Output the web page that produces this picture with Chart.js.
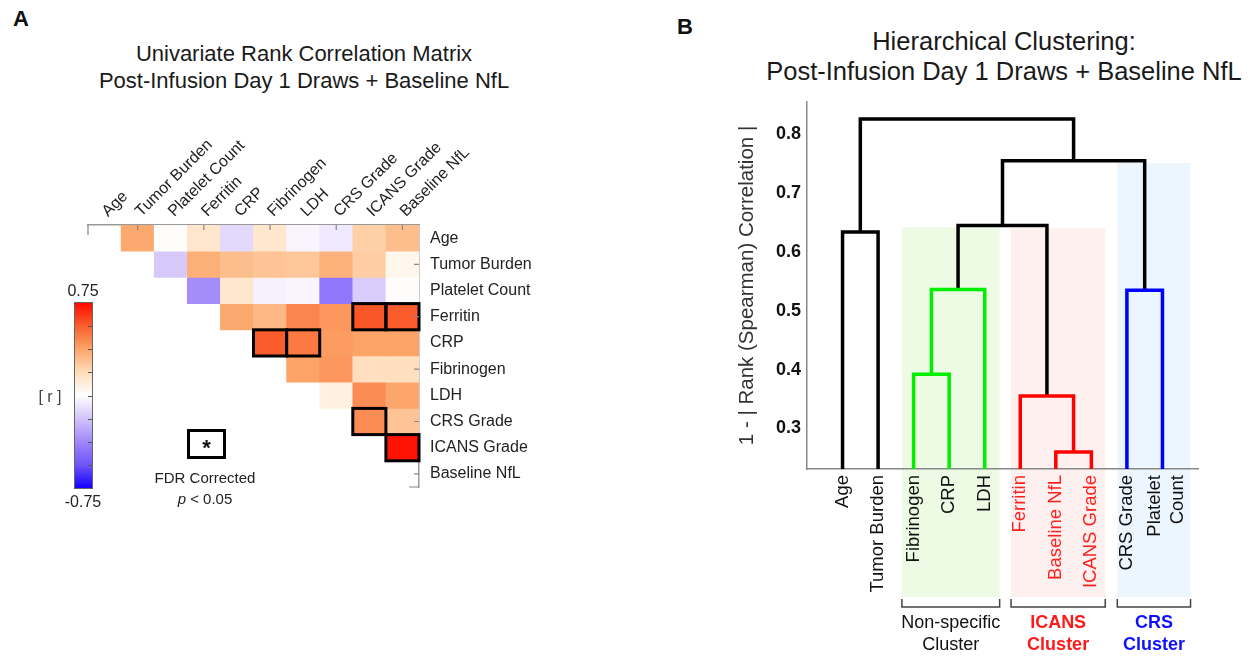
<!DOCTYPE html>
<html>
<head>
<meta charset="utf-8">
<script src="https://cdn.jsdelivr.net/npm/chart.js@4.4.1/dist/chart.umd.min.js"></script>
<style>
  body { margin: 0; background: #fff; font-family: 'Liberation Sans', Arial, sans-serif; color: #111; }
  #page { position: relative; width: 1255px; height: 656px; overflow: hidden; }
  .abs { position: absolute; }
  .letter { font-weight: bold; font-size: 22px; line-height: 22px; }
  .title { text-align: center; color: #1a1a1a; }
  #colorbar { left: 74px; top: 302px; width: 17px; height: 185px; border: 1px solid #666; }
  .cbtick { position: absolute; right: 0; width: 4px; height: 1px; background: #555; }
  .small { font-size: 16px; color: #222; text-align: center; }
  #starbox { left: 187px; top: 429px; width: 33px; height: 24px; border: 3px solid #000;
             font-weight: bold; font-size: 22px; text-align: center; line-height: 32px; }
</style>
</head>
<body>
<div id="page">
  <div class="abs letter" style="left:13px;top:8px">A</div>
  <div class="abs letter" style="left:677px;top:16px">B</div>

  <div class="abs title" style="left:40px;width:528px;top:40px;font-size:22px;line-height:27px">
    Univariate Rank Correlation Matrix<br>Post-Infusion Day 1 Draws + Baseline NfL</div>
  <div class="abs title" style="left:754px;width:500px;top:26px;font-size:25.5px;line-height:30px">
    Hierarchical Clustering:<br>Post-Infusion Day 1 Draws + Baseline NfL</div>

  <canvas id="matrixChart" class="abs" style="left:0;top:102px" width="560" height="400"></canvas>
  <canvas id="dendroChart" class="abs" style="left:680px;top:90px" width="575" height="566"></canvas>

  <div class="abs small" style="left:53px;width:60px;top:282px">0.75</div>
  <div class="abs small" style="left:53px;width:60px;top:493px">-0.75</div>
  <div class="abs small" style="left:30px;width:40px;top:388px;color:#444">[ r ]</div>
  <div id="colorbar" class="abs"></div>

  <div id="starbox" class="abs">*</div>
  <div class="abs small" style="left:140px;width:130px;top:469px;font-size:15px">FDR Corrected</div>
  <div class="abs small" style="left:140px;width:130px;top:490px;font-size:15px"><i>p</i> &lt; 0.05</div>
</div>

<script>
// ---- panel A: rank correlation matrix ----
const variables = ['Age', 'Tumor Burden', 'Platelet Count', 'Ferritin', 'CRP',
  'Fibrinogen', 'LDH', 'CRS Grade', 'ICANS Grade', 'Baseline NfL'];

// upper triangle, row i holds r for columns i+1 .. 9
const rankCorr = [
  [0.36, 0.01, 0.14, -0.12, 0.13, -0.03, -0.07, 0.23, 0.29],
  [-0.17, 0.34, 0.29, 0.27, 0.26, 0.33, 0.24, 0.05],
  [-0.36, 0.13, -0.04, -0.03, -0.44, -0.16, 0.01],
  [0.36, 0.31, 0.46, 0.41, 0.58, 0.57],
  [0.57, 0.49, 0.40, 0.38, 0.38],
  [0.38, 0.41, 0.17, 0.17],
  [0.08, 0.44, 0.37],
  [0.44, 0.27],
  [0.73]
];

// [row, column] pairs passing FDR correction
const fdrSignificant = [[3, 8], [3, 9], [4, 5], [4, 6], [7, 8], [8, 9]];

const cmapStops = [-0.75, -0.5625, -0.375, -0.1875, 0, 0.1875, 0.375, 0.5625, 0.75];
const cmapColors = [[20, 0, 255], [110, 85, 250], [160, 135, 250], [210, 195, 250], [255, 255, 255],
  [255, 220, 185], [252, 165, 105], [250, 95, 45], [255, 10, 0]];

function rColor(r) {
  r = Math.max(-0.75, Math.min(0.75, r));
  let k = 0;
  while (k < cmapStops.length - 2 && r > cmapStops[k + 1]) k++;
  const t = (r - cmapStops[k]) / (cmapStops[k + 1] - cmapStops[k]);
  const c = cmapColors[k].map((v, n) => Math.round(v + t * (cmapColors[k + 1][n] - v)));
  return `rgb(${c[0]},${c[1]},${c[2]})`;
}

// colorbar gradient + ticks
const $bar = document.querySelector('#colorbar');
$bar.style.background = 'linear-gradient(to top,' +
  cmapStops.map((s, k) => `${rColor(s)} ${(k / (cmapStops.length - 1) * 100).toFixed(1)}%`).join(',') + ')';
for (let k = 1; k < 8; k++) {
  const tick = document.createElement('div');
  tick.className = 'cbtick';
  tick.style.top = (k * 185 / 8) + 'px';
  $bar.appendChild(tick);
}

Chart.defaults.font.family = "'Liberation Sans', Arial, sans-serif";
Chart.defaults.color = '#222';

const rowDatasets = rankCorr.map((row, i) => ({
  data: variables.map((_, j) => (j > i ? [i, i + 1] : null)),
  backgroundColor: variables.map((_, j) => (j > i ? rColor(row[j - i - 1]) : 'transparent')),
  borderWidth: 0,
  grouped: false,
  barPercentage: 1,
  categoryPercentage: 1
}));

const significanceBoxes = {
  id: 'significanceBoxes',
  afterDatasetsDraw(chart) {
    const {ctx, scales: {x, y}} = chart;
    const w = x.getPixelForValue(1) - x.getPixelForValue(0);
    ctx.save();
    ctx.strokeStyle = '#000';
    ctx.lineWidth = 3;
    fdrSignificant.forEach(([i, j]) => {
      const left = x.getPixelForValue(j) - w / 2;
      const top = y.getPixelForValue(i);
      ctx.strokeRect(left, top, w, y.getPixelForValue(i + 1) - top);
    });
    ctx.restore();
  }
};

// short inward ticks on the top and right axes, every other cell
const innerTicks = {
  id: 'innerTicks',
  afterDraw(chart) {
    const {ctx, chartArea: {left, top, right, bottom}, scales: {x, y}} = chart;
    ctx.save();
    ctx.strokeStyle = '#888';
    ctx.lineWidth = 1.2;
    ctx.beginPath();
    for (let k = 1; k < variables.length; k += 2) {
      const px = x.getPixelForValue(k);
      ctx.moveTo(px, top);
      ctx.lineTo(px, top + 5);
      const py = y.getPixelForValue(k + 0.5);
      ctx.moveTo(right, py);
      ctx.lineTo(right - 5, py);
    }
    ctx.moveTo(left, top);
    ctx.lineTo(left, top + 10);
    ctx.moveTo(right, bottom);
    ctx.lineTo(right - 10, bottom);
    ctx.stroke();
    ctx.restore();
  }
};

new Chart(document.querySelector('#matrixChart'), {
  type: 'bar',
  data: { labels: variables, datasets: rowDatasets },
  options: {
    responsive: false,
    animation: false,
    layout: { padding: { left: 88, top: 0, right: 0, bottom: 15 } },
    plugins: { legend: { display: false }, tooltip: { enabled: false } },
    scales: {
      x: {
        position: 'top',
        grid: { display: false, drawTicks: false },
        border: { display: true, color: '#999', width: 1.5 },
        ticks: { minRotation: 45, maxRotation: 45, autoSkip: false, padding: 4, labelOffset: 14,
          font: { size: 16 } },
        afterFit(scale) { scale.height = 123; scale.paddingLeft = 0; scale.paddingRight = 0; }
      },
      y: {
        position: 'right',
        reverse: true,
        min: 0,
        max: 10,
        grid: { display: false, drawTicks: false },
        border: { display: true, color: '#999', width: 1.5 },
        afterBuildTicks(axis) { axis.ticks = variables.map((_, i) => ({ value: i + 0.5 })); },
        ticks: { padding: 11, font: { size: 16 }, callback: v => variables[Math.floor(v)] },
        afterFit(scale) { scale.width = 141; scale.paddingTop = 0; scale.paddingBottom = 0; }
      }
    }
  },
  plugins: [significanceBoxes, innerTicks]
});

// ---- panel B: dendrogram ----
const leafOrder = ['Age', 'Tumor Burden', 'Fibrinogen', 'CRP', 'LDH', 'Ferritin',
  'Baseline NfL', 'ICANS Grade', 'CRS Grade', ['Platelet', 'Count']];
const leafColors = ['#111', '#111', '#111', '#111', '#111', '#ff2020', '#ff2020', '#ff2020', '#111', '#111'];

// linkage: node ids 0-9 are leaves, merge k creates node 10+k
const mergeA = [6, 5, 2, 8, 12, 0, 14, 16, 15];
const mergeB = [7, 10, 3, 9, 4, 1, 11, 13, 17];
const mergeHeight = [0.26, 0.355, 0.392, 0.535, 0.536, 0.634, 0.645, 0.755, 0.826];
const mergeColor = ['#ff0000', '#ff0000', '#00ee00', '#0000ff', '#00ee00', '#000', '#000', '#000', '#000'];

const yFloor = 0.231;
const yCeil = 0.855;

const clusterNames = [['Non-specific', 'Cluster'], ['ICANS', 'Cluster'], ['CRS', 'Cluster']];
const clusterSpan = [[2.67, 5.42], [5.74, 8.39], [8.73, 10.79]];
const clusterTop = [0.642, 0.641, 0.751];
const clusterFill = ['#edfbe5', '#fff0f0', '#ebf6fe'];
const clusterText = ['#111', '#ff1a1a', '#1010ff'];

const nodeX = leafOrder.map((_, i) => i + 1);
const nodeY = leafOrder.map(() => yFloor);
const linkDatasets = mergeA.map((a, k) => {
  const b = mergeB[k];
  const h = mergeHeight[k];
  const ds = {
    data: [{ x: nodeX[a], y: nodeY[a] }, { x: nodeX[a], y: h }, { x: nodeX[b], y: h }, { x: nodeX[b], y: nodeY[b] }],
    showLine: true,
    borderColor: mergeColor[k],
    borderWidth: 3.5,
    borderJoinStyle: 'miter',
    pointRadius: 0,
    clip: false
  };
  nodeX.push((nodeX[a] + nodeX[b]) / 2);
  nodeY.push(h);
  return ds;
});

const clusterShading = {
  id: 'clusterShading',
  beforeDraw(chart) {
    const {ctx, chartArea, scales: {x, y}} = chart;
    const bottom = chartArea.bottom + 128;
    ctx.save();
    clusterSpan.forEach(([a, b], k) => {
      const top = y.getPixelForValue(clusterTop[k]);
      ctx.fillStyle = clusterFill[k];
      ctx.fillRect(x.getPixelForValue(a), top, x.getPixelForValue(b) - x.getPixelForValue(a), bottom - top);
    });
    ctx.restore();
  },
  afterDraw(chart) {
    const {ctx, chartArea, scales: {x}} = chart;
    const base = chartArea.bottom + 130;
    ctx.save();
    clusterSpan.forEach(([a, b], k) => {
      const left = x.getPixelForValue(a);
      const right = x.getPixelForValue(b);
      ctx.strokeStyle = '#444';
      ctx.lineWidth = 1.5;
      ctx.beginPath();
      ctx.moveTo(left, base);
      ctx.lineTo(left, base + 8);
      ctx.lineTo(right, base + 8);
      ctx.lineTo(right, base);
      ctx.stroke();
      ctx.fillStyle = clusterText[k];
      ctx.font = (k === 0 ? '' : 'bold ') + "18px 'Liberation Sans', Arial, sans-serif";
      ctx.textAlign = 'center';
      ctx.textBaseline = 'middle';
      clusterNames[k].forEach((line, n) => ctx.fillText(line, (left + right) / 2, base + 24 + n * 22));
    });
    ctx.restore();
  }
};

new Chart(document.querySelector('#dendroChart'), {
  type: 'scatter',
  data: { datasets: linkDatasets },
  options: {
    responsive: false,
    animation: false,
    layout: { padding: { left: 0, top: 12, right: 57, bottom: 0 } },
    plugins: { legend: { display: false }, tooltip: { enabled: false } },
    scales: {
      x: {
        type: 'linear',
        min: 0,
        max: 11,
        grid: { display: false, drawTicks: false },
        border: { display: true, color: '#888', width: 1.5 },
        // two-line labels are nudged left so both lines sit around the leaf
        afterBuildTicks(axis) {
          axis.ticks = leafOrder.map((l, i) => ({ value: i + 1 - (Array.isArray(l) ? 0.2 : 0) }));
        },
        ticks: {
          minRotation: 90,
          maxRotation: 90,
          autoSkip: false,
          padding: 6,
          font: { size: 18.5 },
          color: ctx => leafColors[ctx.index],
          callback: (v, i) => leafOrder[i]
        },
        afterFit(scale) { scale.height = 187; scale.paddingLeft = 0; scale.paddingRight = 0; }
      },
      y: {
        min: yFloor,
        max: yCeil,
        grid: { display: false, drawTicks: false },
        border: { display: true, color: '#888', width: 1.5 },
        afterBuildTicks(axis) { axis.ticks = [0.3, 0.4, 0.5, 0.6, 0.7, 0.8].map(v => ({ value: v })); },
        ticks: { padding: 6, color: '#111', font: { size: 18, weight: 'bold' }, callback: v => v.toFixed(1) },
        title: {
          display: true,
          text: '1 - | Rank (Spearman) Correlation |',
          color: '#333',
          font: { size: 20.5 },
          padding: { top: 55, bottom: 0 }
        },
        afterFit(scale) { scale.width = 127; scale.paddingTop = 0; scale.paddingBottom = 0; }
      }
    }
  },
  plugins: [clusterShading]
});
</script>
</body>
</html>
